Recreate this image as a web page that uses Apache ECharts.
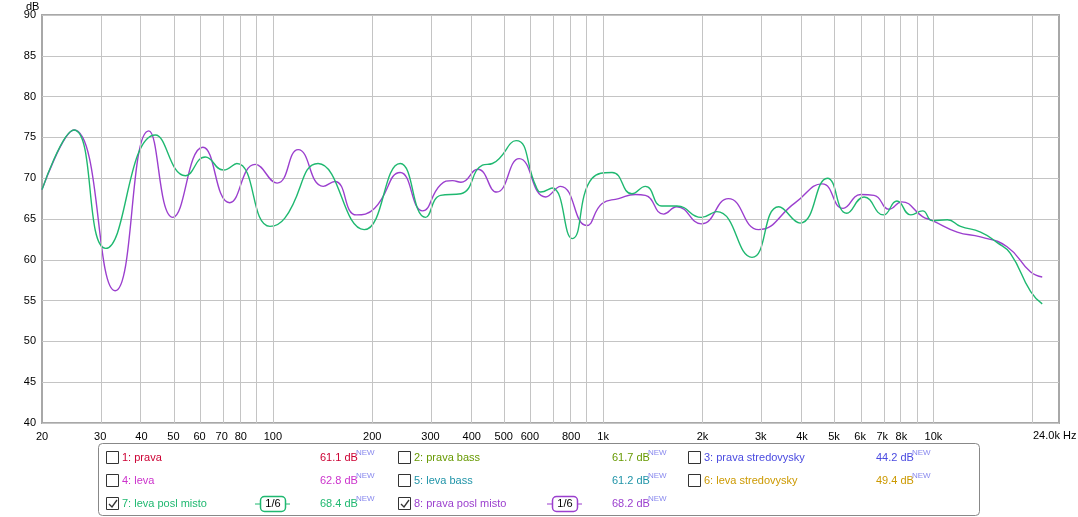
<!DOCTYPE html>
<html lang="en">
<head>
<meta charset="UTF-8">
<title>REW frequency response</title>
<script src="https://cdn.jsdelivr.net/npm/echarts@6/dist/echarts.min.js"></script>
<style>
  html, body { margin:0; padding:0; background:#fff; }
  #main { width:1078px; height:517px; }
</style>
</head>
<body>
<div id="main"></div>
<script>
// 7: leva posl misto (green)
var levaFreq = [20, 25, 31.2, 44.1, 54.4, 62.4, 70.9, 77.8, 98, 108.7, 137, 189, 243, 290, 322, 371, 431, 462, 545, 626, 647, 701, 806, 926, 1064, 1222, 1342, 1506, 1671, 1983, 2208, 2823, 3401, 3949, 4777, 5465, 6166, 7055, 7754, 8545, 9268, 9931, 11018, 12080, 13890, 15600, 17100, 19700, 21350];
var levaDb   = [68.6, 75.9, 61.4, 75.3, 70.3, 72.6, 71.0, 71.8, 64.1, 65.1, 71.8, 63.7, 71.8, 65.2, 67.9, 68.1, 71.6, 71.8, 74.6, 69.0, 68.3, 68.8, 62.6, 70.0, 70.7, 68.1, 69.0, 66.6, 66.6, 65.2, 65.9, 60.3, 66.5, 64.5, 70.0, 65.7, 67.7, 65.5, 67.2, 65.5, 66.0, 64.8, 64.9, 64.1, 63.4, 62.1, 60.8, 56.1, 54.6];
// 8: prava posl misto (purple)
var pravaFreq = [20, 25, 33.3, 42.1, 49.8, 61.4, 74.0, 88.4, 103, 119.3, 142, 154, 179, 203, 243, 284, 322, 350, 371, 417, 476, 557, 670, 743, 891, 993, 1114, 1251, 1342, 1524, 1671, 1983, 2394, 2956, 3819, 4608, 5325, 6026, 6610, 7349, 8013, 9268, 9931, 11805, 13890, 16710, 19700, 21350];
var pravaDb   = [68.6, 75.9, 56.2, 75.8, 65.2, 73.8, 67.0, 71.7, 69.4, 73.5, 69.0, 69.6, 65.5, 66.3, 70.7, 66.0, 69.2, 69.7, 69.5, 71.1, 68.3, 72.4, 67.7, 69.0, 64.2, 66.9, 67.5, 68.0, 67.9, 65.6, 66.5, 64.4, 67.5, 63.7, 67.0, 69.3, 66.3, 68.0, 67.9, 66.2, 67.1, 65.3, 64.8, 63.4, 62.8, 61.6, 58.5, 57.9];

var gridFreqs = [20,30,40,50,60,70,80,90,100,200,300,400,500,600,700,800,900,1000,2000,3000,4000,5000,6000,7000,8000,9000,10000,20000];
var labelFreqs = [20,30,40,50,60,70,80,100,200,300,400,500,600,800,1000,2000,3000,4000,5000,6000,7000,8000,10000];
var labelTexts = ['20','30','40','50','60','70','80','100','200','300','400','500','600','800','1k','2k','3k','4k','5k','6k','7k','8k','10k'];

// legend rows: [label, value, colour, checked, badge]
var legendItems = [
  ['1: prava', '61.1', '#cc0033', false, false],
  ['2: prava bass', '61.7', '#669900', false, false],
  ['3: prava stredovysky', '44.2', '#4a4ae0', false, false],
  ['4: leva', '62.8', '#cc33cc', false, false],
  ['5: leva bass', '61.2', '#2094a8', false, false],
  ['6: leva stredovysky', '49.4', '#cc9900', false, false],
  ['7: leva posl misto', '68.4', '#1fb870', true, true],
  ['8: prava posl misto', '68.2', '#9b3fce', true, true]
];

function toPts(f, d) {
  var out = [];
  for (var i = 0; i < f.length; i++) out.push([Math.log10(f[i]), d[i]]);
  return out;
}

var font = 'Arial, "Liberation Sans", sans-serif';
var chart = echarts.init(document.getElementById('main'));

var markData = [];
for (var i = 0; i < gridFreqs.length; i++) markData.push({ xAxis: Math.log10(gridFreqs[i]) });

var labelVals = labelFreqs.map(function (f) { return Math.log10(f); });

var graphics = [
  { type: 'text', left: 26, top: 1, style: { text: 'dB', font: '11px ' + font, fill: '#000' } },
  { type: 'text', x: 1033, y: 436, style: { text: '24.0k Hz', font: '11px ' + font, fill: '#000', verticalAlign: 'middle' } },
  { type: 'rect', shape: { x: 98.5, y: 443.5, width: 881, height: 72, r: 4 },
    style: { fill: '#fff', stroke: '#888', lineWidth: 1 } }
];
var colX = [[106, 122, 320], [398, 414, 612], [688, 704, 876]];
for (var k = 0; k < legendItems.length; k++) {
  var it = legendItems[k];
  var row = Math.floor(k / 3), col = k % 3;
  var cx = colX[col], y = 458 + row * 23;
  graphics.push({ type: 'rect', shape: { x: cx[0] + 0.5, y: y - 6.5, width: 12, height: 12 },
    style: { fill: '#fff', stroke: '#333', lineWidth: 1 } });
  if (it[3]) {
    graphics.push({ type: 'polyline', shape: { points: [[cx[0] + 3, y], [cx[0] + 6, y + 3], [cx[0] + 11, y - 4]] },
      style: { stroke: '#333', lineWidth: 1.3, fill: null } });
  }
  graphics.push({ type: 'text', x: cx[1], y: y, style: { text: it[0], font: '11px ' + font, fill: it[2], verticalAlign: 'middle' } });
  graphics.push({ type: 'text', x: cx[2], y: y, style: { text: it[1] + ' dB', font: '11px ' + font, fill: it[2], verticalAlign: 'middle' } });
  graphics.push({ type: 'text', x: cx[2] + 36, y: y - 9, style: { text: 'NEW', font: '8px ' + font, fill: '#8888ee' } });
  if (it[4]) {
    var bx = cx[2] - 60;
    graphics.push({ type: 'line', shape: { x1: bx - 5, y1: y, x2: bx + 30, y2: y }, style: { stroke: it[2], lineWidth: 1 } });
    graphics.push({ type: 'rect', shape: { x: bx + 0.5, y: y - 7.5, width: 25, height: 15, r: 4 },
      style: { fill: '#fff', stroke: it[2], lineWidth: 1.5 } });
    graphics.push({ type: 'text', x: bx + 13, y: y, style: { text: '1/6', font: '11px ' + font, fill: '#000', align: 'center', verticalAlign: 'middle' } });
  }
}

var option = {
  animation: false,
  backgroundColor: '#fff',
  grid: { left: 42, right: 19, top: 15, bottom: 94, show: true, borderColor: '#a8a8a8', borderWidth: 2, backgroundColor: '#fff' },
  xAxis: {
    type: 'value', min: Math.log10(20), max: Math.log10(24000),
    axisLine: { show: false }, axisTick: { show: false }, splitLine: { show: false },
    axisLabel: {
      customValues: labelVals, showMinLabel: true, color: '#000', fontSize: 11, fontFamily: font, margin: 8,
      formatter: function (v) {
        var idx = labelVals.findIndex(function (x) { return Math.abs(x - v) < 1e-6; });
        return idx >= 0 ? labelTexts[idx] : '';
      }
    }
  },
  yAxis: {
    type: 'value', min: 40, max: 90, interval: 5,
    axisLine: { show: false }, axisTick: { show: false },
    axisLabel: { color: '#000', fontSize: 11, fontFamily: font, margin: 6 },
    splitLine: { lineStyle: { color: '#c4c4c4', width: 1 } }
  },
  graphic: graphics,
  series: [
    {
      type: 'line', data: [], silent: true,
      markLine: {
        symbol: 'none', silent: true, animation: false,
        lineStyle: { color: '#c4c4c4', type: 'solid', width: 1 },
        label: { show: false },
        data: markData
      }
    },
    {
      name: '8: prava posl misto', type: 'line', data: toPts(pravaFreq, pravaDb),
      smooth: 0.5, showSymbol: false, lineStyle: { color: '#9b3fce', width: 1.4 }
    },
    {
      name: '7: leva posl misto', type: 'line', data: toPts(levaFreq, levaDb),
      smooth: 0.5, showSymbol: false, lineStyle: { color: '#1fb870', width: 1.4 }
    }
  ]
};
chart.setOption(option);
</script>
</body>
</html>
